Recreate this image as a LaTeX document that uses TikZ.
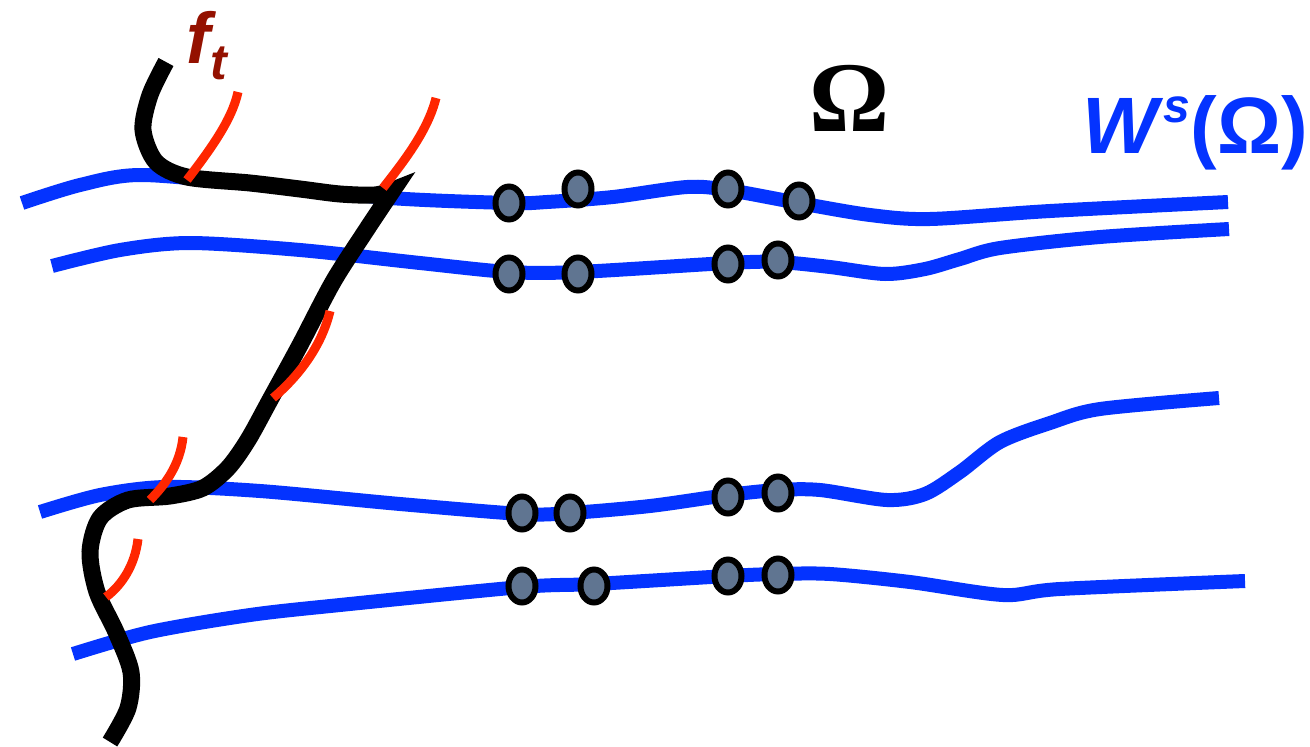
\documentclass[tikz,border=0pt]{standalone}
\usepackage{fontspec}
\usetikzlibrary{shapes.geometric}
\newfontfamily\labelfont{Liberation Sans}
\newfontfamily\omegafont{Liberation Serif}
\definecolor{leafblue}{RGB}{4,51,255}
\definecolor{tanred}{RGB}{255,38,0}
\definecolor{ftred}{RGB}{148,17,0}
\definecolor{dotgray}{RGB}{96,117,145}
\tikzset{
  leaf/.style={draw=leafblue, line width=14pt},
  curve/.style={draw=black, line width=17pt},
  tangent/.style={draw=tanred, line width=9pt},
  point/.style={ellipse, draw=black, line width=6pt, fill=dotgray,
    minimum width=27pt, minimum height=33pt, inner sep=0pt},
}

\begin{document}
\begin{tikzpicture}[x=1pt,y=-1pt]
  \useasboundingbox (0,0) rectangle (1310,747);

  % stable leaves
  \draw[leaf] plot[smooth] coordinates {(22,203) (80,185) (140,175) (250,184)
    (390,198) (510,203) (547,202) (613,197) (687,187) (728,190) (799,203)
    (870,215) (930,219) (1050,211) (1228,202)};
  \draw[leaf] plot[smooth] coordinates {(52,266) (120,250) (190,243) (300,250)
    (420,263) (509,272) (578,272) (728,263) (778,262) (830,267) (885,274)
    (925,269) (960,259) (1000,248) (1100,237) (1229,229)};
  \draw[leaf] plot[smooth] coordinates {(40,512) (100,495) (165,487) (260,491)
    (400,504) (522,514) (570,513) (650,506) (728,495) (778,490) (820,490)
    (887,500) (925,494) (960,472) (1000,442) (1050,423) (1100,409)
    (1219,398)};
  \draw[leaf] plot[smooth] coordinates {(73,654) (150,632) (250,615) (340,605)
    (522,587) (594,584) (728,576) (778,574) (830,574) (910,582) (1003,595)
    (1060,589) (1245,581)};

  % the curve f_t
  \draw[curve, line join=miter] plot[smooth] coordinates {(166,62) (150,95)
    (143,130) (156,162) (187,177) (250,183) (300,189) (340,194) (375,195)
    (393,190)}
    -- plot[smooth] coordinates {(393,190) (365,232) (333,282) (300,345)
    (270,400) (248,440) (228,468) (203,488) (170,496) (128,500) (100,518)
    (90,552) (97,592) (116,632) (131,672) (128,708) (110,742)};

  % tangent pieces
  \draw[tangent] (187,180) .. controls (210,150) and (232,120) .. (238,92);
  \draw[tangent] (383,188) .. controls (405,160) and (428,130) .. (436,98);
  \draw[tangent] (273,398) .. controls (300,375) and (322,345) .. (330,311);
  \draw[tangent] (150,500) .. controls (165,485) and (180,465) .. (183,437);
  \draw[tangent] (106,597) .. controls (122,585) and (135,565) .. (138,539);

  % points on the leaves
  \node[point] (p11) at (509,203) {};
  \node[point] (p12) at (578,189) {};
  \node[point] (p13) at (728,189) {};
  \node[point] (p14) at (799,201) {};
  \node[point] (p21) at (509,274) {};
  \node[point] (p22) at (578,274) {};
  \node[point] (p23) at (728,264) {};
  \node[point] (p24) at (778,260) {};
  \node[point] (p31) at (522,513) {};
  \node[point] (p32) at (570,513) {};
  \node[point] (p33) at (728,497) {};
  \node[point] (p34) at (778,493) {};
  \node[point] (p41) at (522,586) {};
  \node[point] (p42) at (594,586) {};
  \node[point] (p43) at (728,576) {};
  \node[point] (p44) at (778,575) {};

  % labels
  \node[anchor=base west, inner sep=0pt, text=ftred] (ft) at (186,63)
    {\labelfont\bfseries\itshape\fontsize{72}{72}\selectfont
     f\raisebox{-16pt}{\fontsize{50}{50}\selectfont t}};
  \node[anchor=base, inner sep=0pt] (om) at (850,131)
    {\omegafont\bfseries\fontsize{100}{100}\selectfont Ω};
  \node[anchor=base west, inner sep=0pt, text=leafblue] (ws) at (1082,153)
    {\labelfont\bfseries\fontsize{80}{80}\selectfont
     \textit{W\kern6pt\raisebox{31pt}{\fontsize{48}{48}\selectfont s}}(Ω)};
\end{tikzpicture}
\end{document}
